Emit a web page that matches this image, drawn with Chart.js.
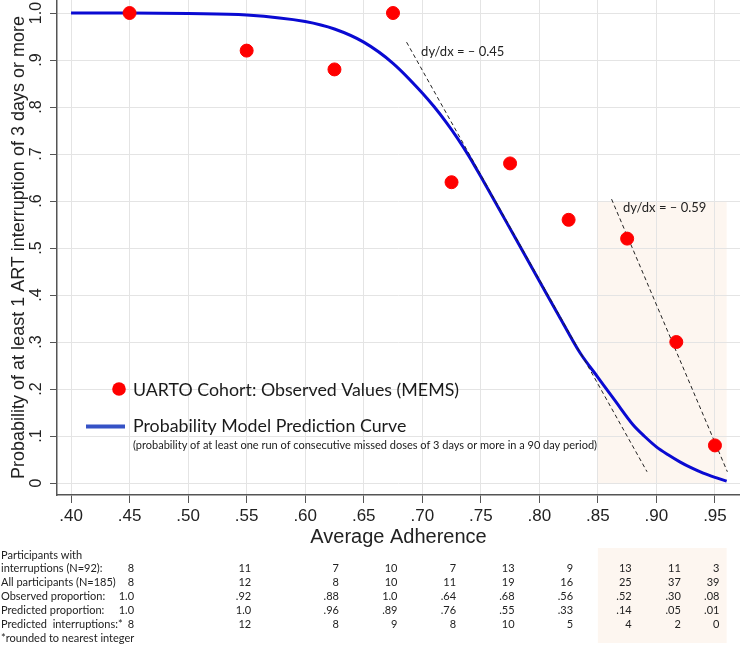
<!DOCTYPE html>
<html>
<head>
<meta charset="utf-8">
<script src="https://cdn.jsdelivr.net/npm/chart.js@4.4.1/dist/chart.umd.min.js"></script>
<style>
  html, body { margin: 0; padding: 0; background: #ffffff; }
  #wrap { width: 740px; height: 647px; }
</style>
</head>
<body>
<div id="wrap"><canvas id="c" width="740" height="647"></canvas></div>
<script>
// ---------------- data ----------------
const xTickValues = [0.40, 0.45, 0.50, 0.55, 0.60, 0.65, 0.70, 0.75, 0.80, 0.85, 0.90, 0.95];
const yTickValues = [0, 0.1, 0.2, 0.3, 0.4, 0.5, 0.6, 0.7, 0.8, 0.9, 1.0];

const binAdherence = [0.45, 0.55, 0.625, 0.675, 0.725, 0.775, 0.825, 0.875, 0.917, 0.95];
const observedProportion = [1.0, 0.92, 0.88, 1.0, 0.64, 0.68, 0.56, 0.52, 0.30, 0.08];

const curveAdherence =   [0.400, 0.450, 0.500, 0.550, 0.600, 0.625, 0.650, 0.675, 0.700, 0.710, 0.720, 0.730, 0.740, 0.750, 0.760, 0.780, 0.800, 0.820, 0.835, 0.850, 0.865, 0.880, 0.890, 0.900, 0.910, 0.920, 0.930, 0.940, 0.950, 0.960];
const curveProbability = [1.000, 1.000, 0.999, 0.996, 0.982, 0.966, 0.938, 0.893, 0.830, 0.801, 0.769, 0.734, 0.695, 0.652, 0.608, 0.519, 0.430, 0.341, 0.276, 0.225, 0.174, 0.124, 0.099, 0.077, 0.060, 0.045, 0.032, 0.021, 0.012, 0.004];

const tangent1X = [0.6866, 0.8920];
const tangent1Y = [0.938, 0.024];
const tangent2X = [0.8617, 0.9606];
const tangent2Y = [0.604, 0.024];
const slopeLabels = ['dy/dx = \u2013 0.45', 'dy/dx = \u2013 0.59'];
const slopeLabelAnchorX = [0.699, 0.8715];
const slopeLabelAnchorY = [0.917, 0.585];

const highlightAdherence = [0.85, 0.96];
const highlightTop = 0.6;

const participantsWithInterruptions = [8, 11, 7, 10, 7, 13, 9, 13, 11, 3];
const allParticipants = [8, 12, 8, 10, 11, 19, 16, 25, 37, 39];
const predictedProportion = [1.0, 1.0, 0.96, 0.89, 0.76, 0.55, 0.33, 0.14, 0.05, 0.01];
const predictedInterruptions = [8, 12, 8, 9, 8, 10, 5, 4, 2, 0];

// ---------------- helpers ----------------
function fmtProp(v) {
  if (v === 1) return '1.0';
  return v.toFixed(2).replace(/^0/, '');
}
function fmtTickX(v) { return v.toFixed(2).replace(/^0/, ''); }
function fmtTickY(v) {
  if (Math.abs(v) < 1e-9) return '0';
  if (Math.abs(v - 1) < 1e-9) return '1.0';
  return v.toFixed(1).replace(/^0/, '');
}

const AXIS_FONT = "'Liberation Sans', Arial, sans-serif";
const BODY_FONT = "Lato, 'Open Sans', sans-serif";

const curveData = curveAdherence.map((x, i) => ({ x, y: curveProbability[i] }));
const obsData = binAdherence.map((x, i) => ({ x, y: observedProportion[i] }));
const t1Data = tangent1X.map((x, i) => ({ x, y: tangent1Y[i] }));
const t2Data = tangent2X.map((x, i) => ({ x, y: tangent2Y[i] }));

const shadePlugin = {
  id: 'shade',
  beforeDraw(chart) {
    const { ctx, scales: { x, y } } = chart;
    const x0 = x.getPixelForValue(highlightAdherence[0]);
    const x1 = x.getPixelForValue(highlightAdherence[1]);
    const yt = y.getPixelForValue(highlightTop);
    const yb = y.getPixelForValue(0);
    ctx.save();
    ctx.fillStyle = '#fdf6f0';
    ctx.fillRect(x0, yt, x1 - x0, yb - yt);
    ctx.fillRect(x0, 548, x1 - x0, 95);
    ctx.restore();
  }
};

const overlayPlugin = {
  id: 'overlay',
  afterDraw(chart) {
    const { ctx, scales: { x, y } } = chart;
    const obsDs = chart.data.datasets[3];
    const curveDs = chart.data.datasets[0];
    ctx.save();
    // legend
    const lx = 119, ly1 = y.getPixelForValue(0.2), ly2 = y.getPixelForValue(0.12);
    ctx.fillStyle = obsDs.backgroundColor;
    ctx.beginPath();
    ctx.arc(lx, ly1, 6.8, 0, Math.PI * 2);
    ctx.fill();
    ctx.strokeStyle = '#3552c6';
    ctx.lineWidth = 4;
    ctx.beginPath();
    ctx.moveTo(86, ly2);
    ctx.lineTo(125, ly2);
    ctx.stroke();
    ctx.fillStyle = '#1a1a1a';
    ctx.textBaseline = 'middle';
    ctx.textAlign = 'left';
    ctx.font = '17.8px ' + BODY_FONT;
    ctx.fillText(obsDs.label, 133, ly1 + 1);
    ctx.fillText(curveDs.label, 133, ly2);
    ctx.font = '11px ' + BODY_FONT;
    ctx.fillText('(probability of at least one run of consecutive missed doses of 3 days or more in a 90 day period)', 133, ly2 + 19);

    // slope annotations
    ctx.font = '13px ' + BODY_FONT;
    ctx.fillStyle = '#222';
    slopeLabels.forEach((t, i) => {
      ctx.fillText(t, x.getPixelForValue(slopeLabelAnchorX[i]), y.getPixelForValue(slopeLabelAnchorY[i]));
    });

    // table
    ctx.font = '11px ' + BODY_FONT;
    ctx.fillStyle = '#222';
    const rows = [
      ['interruptions (N=92):', participantsWithInterruptions.map(String)],
      ['All participants (N=185)', allParticipants.map(String)],
      ['Observed proportion:', observedProportion.map(fmtProp)],
      ['Predicted proportion:', predictedProportion.map(fmtProp)],
      ['Predicted  interruptions:*', predictedInterruptions.map(String)]
    ];
    const rowTop = 555, rowStep = 13.9;
    ctx.textAlign = 'left';
    ctx.fillText('Participants with', 1, rowTop);
    rows.forEach((r, i) => {
      const yy = rowTop + rowStep * (i + 1);
      ctx.textAlign = 'left';
      ctx.fillText(r[0], 1, yy);
      ctx.textAlign = 'right';
      r[1].forEach((v, j) => {
        ctx.fillText(v, x.getPixelForValue(binAdherence[j]) + 4.5, yy);
      });
    });
    ctx.textAlign = 'left';
    ctx.fillText('*rounded to nearest integer', 1, rowTop + rowStep * 6);
    ctx.restore();
  }
};

Chart.defaults.font.family = AXIS_FONT;

new Chart(document.getElementById('c').getContext('2d'), {
  type: 'scatter',
  data: {
    datasets: [
      {
        type: 'line',
        label: 'Probability Model Prediction Curve',
        data: curveData,
        borderColor: '#0a0ad2',
        borderWidth: 3,
        pointRadius: 0,
        cubicInterpolationMode: 'monotone',
        fill: false,
        order: 3
      },
      {
        type: 'line',
        label: 'Slope at 0.70',
        data: t1Data,
        borderColor: '#222',
        borderWidth: 1,
        borderDash: [4, 3],
        pointRadius: 0,
        fill: false,
        order: 2
      },
      {
        type: 'line',
        label: 'Slope at 0.90',
        data: t2Data,
        borderColor: '#222',
        borderWidth: 1,
        borderDash: [4, 3],
        pointRadius: 0,
        fill: false,
        order: 2
      },
      {
        type: 'scatter',
        label: 'UARTO Cohort: Observed Values (MEMS)',
        data: obsData,
        backgroundColor: '#ff0000',
        borderColor: '#ff0000',
        pointRadius: 6.5,
        order: 1
      }
    ]
  },
  options: {
    responsive: false,
    animation: false,
    devicePixelRatio: 1,
    layout: { autoPadding: false, padding: { left: 0, right: 0, top: 0, bottom: 100 } },
    plugins: { legend: { display: false }, tooltip: { enabled: false } },
    scales: {
      x: {
        type: 'linear',
        min: 0.388,
        max: 0.9714,
        afterBuildTicks: s => { s.ticks = xTickValues.map(v => ({ value: v })); },
        afterFit: s => { s.height = 52; s.paddingLeft = 0; s.paddingRight = 0; },
        ticks: {
          callback: v => fmtTickX(v),
          maxRotation: 0,
          minRotation: 0,
          padding: 3,
          color: '#222',
          font: { family: AXIS_FONT, size: 17 }
        },
        grid: { color: '#e4e4e4', lineWidth: 1, tickLength: 8, tickColor: '#555' },
        border: { color: '#555', width: 1.5 },
        title: {
          display: true,
          text: 'Average Adherence',
          color: '#222',
          font: { family: AXIS_FONT, size: 20, lineHeight: 1 },
          padding: { top: 0, bottom: 0 }
        }
      },
      y: {
        type: 'linear',
        min: -0.0255,
        max: 1.0277,
        afterBuildTicks: s => { s.ticks = yTickValues.map(v => ({ value: v })); },
        afterFit: s => { s.width = 57; s.paddingTop = 0; s.paddingBottom = 0; },
        ticks: {
          callback: v => fmtTickY(v),
          minRotation: 90,
          maxRotation: 90,
          crossAlign: 'center',
          padding: 2,
          color: '#222',
          font: { family: AXIS_FONT, size: 16 }
        },
        grid: { color: '#e4e4e4', lineWidth: 1, tickLength: 7, tickColor: '#555' },
        border: { color: '#555', width: 1.5 },
        title: {
          display: true,
          text: 'Probability of at least 1 ART interruption of 3 days or more',
          color: '#222',
          font: { family: AXIS_FONT, size: 18 },
          padding: { top: 8, bottom: 0 }
        }
      }
    }
  },
  plugins: [shadePlugin, overlayPlugin]
});
</script>
</body>
</html>
